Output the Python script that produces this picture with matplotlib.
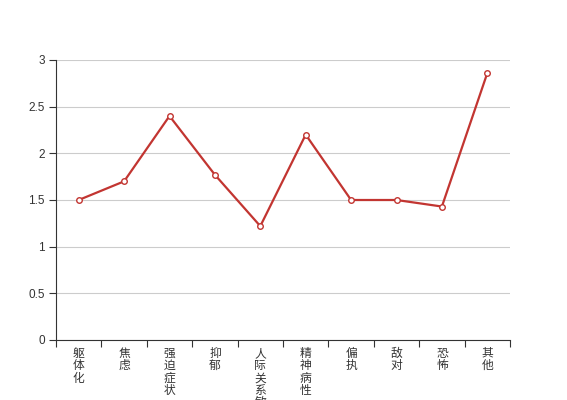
import matplotlib
matplotlib.use("Agg")
import matplotlib.pyplot as plt
import numpy as np

categories = ["躯体化", "焦虑", "强迫症状", "抑郁", "人际关系敏感", "精神病性", "偏执", "敌对", "恐怖", "其他"]
values = [1.5, 1.7, 2.4, 1.77, 1.22, 2.2, 1.5, 1.5, 1.43, 2.86]
yticks = [0, 0.5, 1, 1.5, 2, 2.5, 3]
ytick_labels = ["0", "0.5", "1", "1.5", "2", "2.5", "3"]

plt.rcParams['font.family'] = ['Noto Sans CJK SC', 'DejaVu Sans']

fig = plt.figure(figsize=(5.67, 4.0), dpi=100)
ax = fig.add_axes([56/567, 60/400, 454/567, 280/400])

x = np.arange(len(categories))
ax.plot(x, values, color="#c23531", lw=1.6, marker="o", ms=4,
        mfc="white", mec="#c23531", mew=1.0, zorder=3, clip_on=False)

ax.set_xlim(-0.5, len(categories) - 0.5)
ax.set_ylim(0, 3)
ax.set_yticks(yticks)
ax.set_yticklabels(ytick_labels, family="Liberation Sans", fontsize=8.5, color="#333333")
ax.yaxis.grid(True, color="#cccccc", lw=0.8)
ax.set_axisbelow(True)

ax.set_xticks(x)
ax.set_xticklabels(["\n".join(c) for c in categories], fontsize=8.5, color="#333333",
                   linespacing=0.93, va="top")
ax.tick_params(axis="x", which="major", length=0, pad=5)
ax.set_xticks(np.arange(-0.5, len(categories)), minor=True)
ax.tick_params(axis="x", which="minor", length=5, color="#333333", width=0.8, direction="out")
ax.tick_params(axis="y", length=5, color="#333333", width=0.8, pad=3)

for s in ["top", "right"]:
    ax.spines[s].set_visible(False)
for s in ["left", "bottom"]:
    ax.spines[s].set_color("#333333")
    ax.spines[s].set_linewidth(0.8)

fig.savefig("out.png", dpi=100)
